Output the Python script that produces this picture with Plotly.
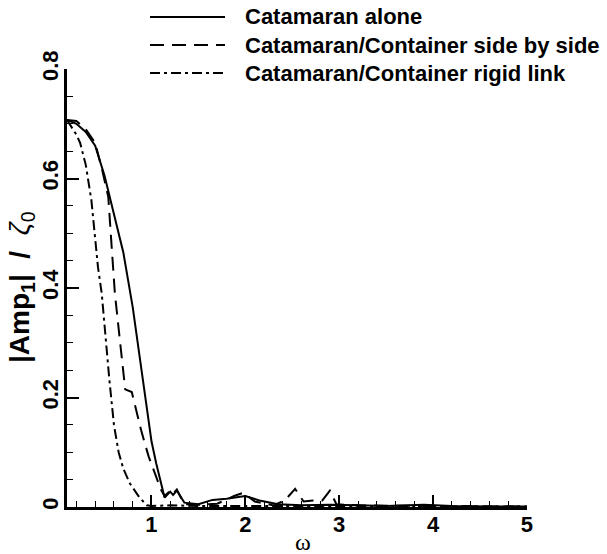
import plotly.graph_objects as go

# Frequency response of the first-mode amplitude for three configurations
series_names = [
    "Catamaran alone",
    "Catamaran/Container side by side",
    "Catamaran/Container rigid link",
]

omega_alone = [0.1, 0.2, 0.3, 0.4, 0.5, 0.6, 0.7, 0.8, 0.9, 1.0, 1.05, 1.1, 1.14,
               1.2, 1.23, 1.27, 1.35, 1.5, 1.65, 1.8, 2.0, 2.15, 2.35, 2.6, 2.9,
               3.2, 3.5, 3.9, 4.2, 4.6, 5.0]
amp_alone = [0.707, 0.70, 0.685, 0.66, 0.605, 0.535, 0.465, 0.365, 0.245, 0.12, 0.08,
             0.045, 0.017, 0.028, 0.022, 0.03, 0.008, 0.005, 0.013, 0.015, 0.02,
             0.012, 0.005, 0.003, 0.004, 0.003, 0.002, 0.004, 0.002, 0.001, 0.001]

omega_side = [0.1, 0.2, 0.3, 0.4, 0.48, 0.54, 0.57, 0.61, 0.66, 0.72, 0.79, 0.89,
              0.97, 1.02, 1.06, 1.1, 1.14, 1.2, 1.23, 1.27, 1.35, 1.5, 1.7, 1.88,
              1.98, 2.1, 2.3, 2.42, 2.53, 2.62, 2.72, 2.82, 2.9, 2.97, 3.2, 3.6,
              4.0, 4.5, 5.0]
amp_side = [0.707, 0.705, 0.69, 0.665, 0.612, 0.566, 0.49, 0.39, 0.31, 0.215, 0.21,
            0.14, 0.092, 0.07, 0.052, 0.032, 0.02, 0.03, 0.024, 0.032, 0.005, 0.004,
            0.006, 0.02, 0.026, 0.01, 0.003, 0.012, 0.033, 0.01, 0.012, 0.012, 0.03,
            0.005, 0.003, 0.002, 0.002, 0.001, 0.001]

omega_link = [0.1, 0.2, 0.24, 0.3, 0.36, 0.4, 0.43, 0.47, 0.5, 0.55, 0.6, 0.65, 0.7,
              0.77, 0.87, 0.95, 1.0, 1.2, 1.5, 2.0, 2.5, 3.0, 4.0, 5.0]
amp_link = [0.707, 0.68, 0.665, 0.625, 0.56, 0.495, 0.438, 0.39, 0.33, 0.235, 0.15,
            0.10, 0.07, 0.043, 0.018, 0.003, 0.002, 0.003, 0.002, 0.002, 0.002,
            0.002, 0.001, 0.001]

dash_styles = ["solid", "14px,8px", "10px,4px,3px,4px"]
xs = [omega_alone, omega_side, omega_link]
ys = [amp_alone, amp_side, amp_link]

fig = go.Figure()
for name, x, y, dash in zip(series_names, xs, ys, dash_styles):
    fig.add_trace(go.Scatter(
        x=x, y=y, mode="lines", name=name,
        line=dict(color="black", width=2, dash=dash),
        showlegend=False,
    ))

# plot-area geometry (pixels) used to place the hand-drawn legend
W, H = 607, 554
L, R, T, B = 67, 80, 69, 47
pw, ph = W - L - R, H - T - B


def px_to_paper(px, py):
    return (px - L) / pw, (H - B - py) / ph


tick_font = dict(family="Liberation Sans", size=22, color="black", weight="bold")
TICK = "black"

# legend: sample line plus label for each series
for i, (name, dash) in enumerate(zip(series_names, dash_styles)):
    row_y = 17 + 28 * i
    x0, y0 = px_to_paper(150, row_y)
    x1, _ = px_to_paper(225, row_y)
    fig.add_shape(type="line", xref="paper", yref="paper", x0=x0, x1=x1, y0=y0, y1=y0,
                  opacity=1, line=dict(color="black", width=2, dash=dash))
    tx, ty = px_to_paper(243, row_y)
    fig.add_annotation(xref="paper", yref="paper", x=tx, y=ty, text=f"<b>{name}</b>",
                       showarrow=False, xanchor="left", yanchor="middle",
                       font=dict(family="Liberation Sans", size=22, color="black"))

# axis titles
ytx, yty = px_to_paper(21, 287)
fig.add_annotation(xref="paper", yref="paper", x=ytx, y=yty,
                   text="<b>|Amp<sub>1</sub>| \u00a0/\u00a0 </b><i>ζ</i><sub>0</sub>",
                   textangle=-90, showarrow=False, xanchor="center", yanchor="middle",
                   font=dict(family="Liberation Sans", size=28, color="black"))
xtx, xty = px_to_paper(303, 542)
fig.add_annotation(xref="paper", yref="paper", x=xtx, y=xty, text="ω",
                   showarrow=False, xanchor="center", yanchor="middle",
                   font=dict(family="Liberation Serif", size=24, color="black"))

fig.update_xaxes(
    range=[0.1, 5.0001], tick0=0, dtick=1, ticks="inside", ticklen=12, tickwidth=2,
    tickcolor=TICK, showline=True, linewidth=2.5, linecolor="black",
    showgrid=False, zeroline=False, tickfont=tick_font, ticklabelstandoff=-4,
    minor=dict(dtick=0.2, tick0=0, ticks="inside", ticklen=6, tickwidth=1,
               tickcolor=TICK, showgrid=False),
)
fig.update_yaxes(
    range=[0, 0.8001], tick0=0, dtick=0.2, ticks="inside", ticklen=12,
    tickwidth=2, tickcolor=TICK, showline=True, linewidth=2.5, linecolor="black",
    showgrid=False, zeroline=False, tickfont=tick_font, tickangle=-90,
    ticklabelstandoff=-3,
    minor=dict(dtick=0.05, tick0=0, ticks="inside", ticklen=6, tickwidth=1,
               tickcolor=TICK, showgrid=False),
)

fig.update_layout(
    template="simple_white",
    width=W, height=H,
    margin=dict(l=L, r=R, t=T, b=B),
    plot_bgcolor="white", paper_bgcolor="white",
)

fig.write_html("out.html")
